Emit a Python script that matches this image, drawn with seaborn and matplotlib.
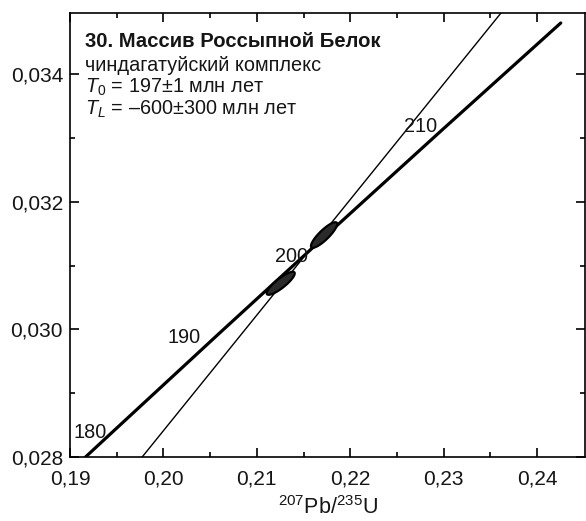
import numpy as np
import pandas as pd
import matplotlib
matplotlib.use("Agg")
import matplotlib.pyplot as plt
import seaborn as sns
from matplotlib.ticker import FixedLocator, FuncFormatter

# ---- data ----
conc_age = [178, 180, 190, 200, 210, 220.5]
conc_x = [0.191607, 0.193957, 0.205773, 0.217708, 0.229760, 0.242542]
conc_y = [0.027997, 0.028316, 0.029912, 0.031511, 0.033113, 0.034797]
disc_x = [0.1977, 0.2364]
disc_y = [0.0280, 0.0350]
ell_cx = [0.21256, 0.21720]
ell_cy = [0.030723, 0.031479]
ell_sx = [0.0015, 0.0014]
ell_sy = [0.00018, 0.00020]
ell_rho = [0.86, 0.86]
age_labels = ["180", "190", "200", "210"]
age_lx = [0.19212, 0.20222, 0.21375, 0.22755]
age_ly = [0.028395, 0.029879, 0.031137, 0.033181]
xticks = [0.19, 0.20, 0.21, 0.22, 0.23, 0.24]
xminor = [0.195, 0.205, 0.215, 0.225, 0.235]
yticks = [0.028, 0.030, 0.032, 0.034]
yminor = [0.029, 0.031, 0.033]
title_lines = ["30. Массив Россыпной Белок", "чиндагатуйский комплекс",
               "$T_0$ = 197±1 млн лет", "$T_L$ = –600±300 млн лет"]

sns.set_theme(style="ticks")
plt.rcParams["font.family"] = ["Liberation Sans", "DejaVu Sans"]
plt.rcParams["mathtext.fontset"] = "custom"
plt.rcParams["mathtext.rm"] = "Liberation Sans"
plt.rcParams["mathtext.it"] = "Liberation Sans:italic"

TXT = "#151515"
fig = plt.figure(figsize=(5.86, 5.21), dpi=100)
ax = fig.add_axes([0.1195, 0.1223, 0.8788, 0.8533])

conc = pd.DataFrame({"x": conc_x, "y": conc_y})
disc = pd.DataFrame({"x": disc_x, "y": disc_y})
sns.lineplot(data=conc, x="x", y="y", ax=ax, color="black", lw=2.3, sort=False)
sns.lineplot(data=disc, x="x", y="y", ax=ax, color="black", lw=1.0, sort=False)

th = np.linspace(0, 2 * np.pi, 200)
for cx, cy, sx, sy, r in zip(ell_cx, ell_cy, ell_sx, ell_sy, ell_rho):
    ex = cx + sx * np.cos(th)
    ey = cy + sy * (r * np.cos(th) + np.sqrt(1 - r * r) * np.sin(th))
    ax.fill(ex, ey, facecolor="#2a2a2a", edgecolor="black", lw=1.6, zorder=3)

for t, lx, ly in zip(age_labels, age_lx, age_ly):
    ax.text(lx, ly, t, ha="center", va="center", fontsize=14.3, color=TXT)

ys = [0.923, 0.869, 0.819, 0.771]
for i, (line, yy) in enumerate(zip(title_lines, ys)):
    ax.text(0.029, yy, line, transform=ax.transAxes, ha="left", va="baseline",
            fontsize=14.6 if i == 0 else 14.3, fontweight="bold" if i == 0 else "normal",
            color=TXT)

ax.set_xlim(0.19, 0.24514)
ax.set_ylim(0.028, 0.034958)
ax.xaxis.set_major_locator(FixedLocator(xticks))
ax.xaxis.set_minor_locator(FixedLocator(xminor))
ax.yaxis.set_major_locator(FixedLocator(yticks))
ax.yaxis.set_minor_locator(FixedLocator(yminor))
ax.xaxis.set_major_formatter(FuncFormatter(lambda v, p: f"{v:.2f}".replace(".", ",")))
ax.yaxis.set_major_formatter(FuncFormatter(lambda v, p: f"{v:.3f}".replace(".", ",")))
ax.tick_params(which="both", direction="in", top=True, right=True, color="black", width=1.2)
ax.tick_params(which="major", length=6.5, labelsize=15, labelcolor=TXT)
ax.tick_params(which="minor", length=3.6)
ax.tick_params(axis="x", which="major", pad=8.5)
ax.tick_params(axis="y", which="major", pad=5)
for s in ax.spines.values():
    s.set_visible(True)
    s.set_linewidth(1.2)
    s.set_color("black")
ax.set_xlabel("$^{207}$Pb/$^{235}$U", fontsize=15.5, color=TXT, labelpad=6)
ax.set_ylabel("")

fig.savefig("out.png", dpi=100)
